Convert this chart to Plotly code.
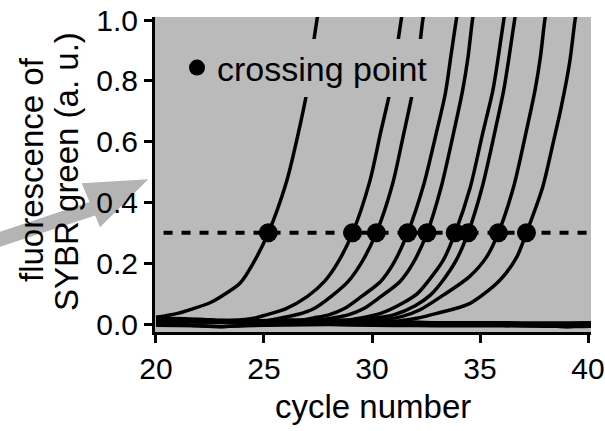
import plotly.graph_objects as go

# Amplification curves: cycle number vs. SYBR green fluorescence (a. u.)
c1_x = [20, 21.0, 21.7, 22.5, 23.0, 23.9, 24.5, 25.2, 26.05, 26.5, 27.0, 27.2, 27.45, 27.55]
c1_y = [0.022, 0.035, 0.05, 0.07, 0.09, 0.135, 0.2, 0.3, 0.47, 0.6, 0.77, 0.88, 1.0, 1.04]

c2_x = [20, 23.5, 24.6, 25.0, 26.0, 27.0, 27.8, 28.4, 29.1, 29.9, 30.4, 30.85, 31.1, 31.35, 31.45]
c2_y = [0.012, 0.012, 0.02, 0.028, 0.05, 0.09, 0.14, 0.2, 0.3, 0.47, 0.63, 0.77, 0.88, 1.0, 1.04]

c3_x = [20, 25.0, 25.8, 26.6, 27.3, 28.1, 28.9, 29.5, 30.2, 30.95, 31.45, 31.9, 32.15, 32.35, 32.45]
c3_y = [0.01, 0.01, 0.02, 0.032, 0.05, 0.09, 0.14, 0.2, 0.3, 0.46, 0.62, 0.77, 0.88, 1.0, 1.04]

c4_x = [20, 26.5, 27.3, 28.0, 28.7, 29.5, 30.4, 31.0, 31.65, 32.4, 32.95, 33.4, 33.65, 33.9, 34.0]
c4_y = [0.01, 0.01, 0.02, 0.03, 0.05, 0.09, 0.14, 0.2, 0.3, 0.46, 0.62, 0.76, 0.88, 1.0, 1.04]

c5_x = [20, 27.3, 28.2, 28.9, 29.6, 30.4, 31.3, 31.9, 32.55, 33.2, 33.75, 34.2, 34.45, 34.65, 34.75]
c5_y = [0.01, 0.01, 0.02, 0.03, 0.05, 0.09, 0.14, 0.2, 0.3, 0.45, 0.62, 0.77, 0.88, 1.0, 1.04]

c6_x = [20, 28.5, 29.5, 30.4, 31.45, 32.1, 32.7, 33.3, 33.85, 34.55, 35.1, 35.6, 35.85, 36.1, 36.2]
c6_y = [0.01, 0.01, 0.02, 0.035, 0.07, 0.1, 0.15, 0.21, 0.3, 0.45, 0.62, 0.77, 0.88, 1.0, 1.04]

c7_x = [20, 29.0, 30.0, 31.0, 32.0, 32.7, 33.3, 33.9, 34.45, 35.1, 35.65, 36.1, 36.35, 36.6, 36.7]
c7_y = [0.01, 0.01, 0.018, 0.03, 0.06, 0.095, 0.145, 0.21, 0.3, 0.45, 0.62, 0.77, 0.88, 1.0, 1.04]

c8_x = [20, 30.0, 31.4, 32.2, 33.3, 34.5, 35.3, 35.85, 36.55, 37.1, 37.55, 37.8, 38.0, 38.1]
c8_y = [0.01, 0.01, 0.025, 0.046, 0.095, 0.155, 0.22, 0.3, 0.45, 0.62, 0.77, 0.88, 1.0, 1.04]

c9_x = [20, 31.0, 32.07, 33.0, 34.54, 35.93, 36.7, 37.15, 37.9, 38.4, 38.75, 39.15, 39.4, 39.5]
c9_y = [0.008, 0.008, 0.019, 0.035, 0.068, 0.145, 0.22, 0.3, 0.45, 0.6, 0.71, 0.86, 1.0, 1.04]

# Non-amplifying wells staying on the baseline
base_x = [20, 22, 23, 24, 26, 28, 30, 32, 34, 36, 38, 39, 40.2]
base1_y = [0.004, -0.006, -0.009, -0.005, 0.0, 0.003, 0.002, 0.0, 0.002, 0.001, -0.004, -0.009, -0.002]
base2_y = [0.014, 0.01, 0.008, 0.007, 0.01, 0.011, 0.008, 0.005, 0.004, 0.004, 0.003, 0.003, 0.004]
base3_y = [0.02, 0.016, 0.012, 0.01, 0.013, 0.014, 0.01, 0.006, 0.0, -0.002, -0.001, 0.0, 0.001]
base4_y = [-0.004, -0.006, -0.008, -0.006, -0.003, -0.002, -0.004, -0.005, -0.006, -0.006, -0.007, -0.008, -0.007]

# Crossing points at the 0.3 threshold
cp_cycles = [25.2, 29.1, 30.2, 31.65, 32.55, 33.85, 34.45, 35.85, 37.15]
threshold = 0.3

x_ticks = [20, 25, 30, 35, 40]
y_ticks = [0.0, 0.2, 0.4, 0.6, 0.8, 1.0]

FONT = "Liberation Sans, Arial, sans-serif"
BG = "#bababa"

# plot-area pixel frame (for the decorative arrow drawn outside it)
L, R, T, B = 155, 14, 17, 99
W, H = 605, 431
PW, PH = W - L - R, H - T - B


def px(x, y):
    return (x - L) / PW, (H - B - y) / PH


fig = go.Figure()

for by in [base1_y, base2_y, base3_y, base4_y]:
    fig.add_trace(go.Scatter(x=base_x, y=by, mode="lines",
                             line=dict(color="black", width=3.5, shape="spline", smoothing=0.6),
                             showlegend=False, hoverinfo="skip"))

for cx, cy in [(c1_x, c1_y), (c2_x, c2_y), (c3_x, c3_y), (c4_x, c4_y), (c5_x, c5_y),
               (c6_x, c6_y), (c7_x, c7_y), (c8_x, c8_y), (c9_x, c9_y)]:
    fig.add_trace(go.Scatter(x=cx, y=cy, mode="lines",
                             line=dict(color="black", width=3.5, shape="spline", smoothing=0.8),
                             showlegend=False, hoverinfo="skip"))

# threshold line
fig.add_trace(go.Scatter(x=[20.35, 40.2], y=[threshold, threshold], mode="lines",
                         line=dict(color="black", width=4, dash="9px,9px"),
                         showlegend=False, hoverinfo="skip"))

fig.add_trace(go.Scatter(x=cp_cycles, y=[threshold] * len(cp_cycles), mode="markers",
                         marker=dict(color="black", size=19), name="crossing point",
                         showlegend=True, cliponaxis=False))

# grey arrow pointing at the y axis
pts = [(-5, 233.5), (89.5, 202), (81.7, 183.3), (148.3, 179.3), (100, 227.3), (95.2, 215.6), (-5, 248.5)]
path = "M " + " L ".join("{:.4f},{:.4f}".format(*px(a, b)) for a, b in pts) + " Z"
fig.add_shape(type="path", path=path, xref="paper", yref="paper", fillcolor="#b4b4b4",
              line=dict(width=0), layer="below")

ax_common = dict(showline=True, linecolor="black", linewidth=3, ticks="outside", ticklen=8,
                 tickwidth=3, tickcolor="black", showgrid=False, zeroline=False, automargin=False,
                 tickfont=dict(family=FONT, size=30, color="black"))

fig.update_xaxes(range=[19.954, 40.139], tickvals=x_ticks, ticktext=[str(t) for t in x_ticks], **ax_common)
fig.update_yaxes(range=[-0.0263, 1.0099], tickvals=y_ticks, ticktext=["{:.1f}".format(t) for t in y_ticks], **ax_common)

fig.add_annotation(text="cycle number", x=(373 - L) / PW, y=(H - B - 406) / PH, xref="paper", yref="paper",
                   showarrow=False, font=dict(family=FONT, size=33, color="black"), xanchor="center", yanchor="middle")
fig.add_annotation(text="fluorescence of", x=(31 - L) / PW, y=(H - B - 170) / PH, xref="paper", yref="paper",
                   showarrow=False, textangle=-90, font=dict(family=FONT, size=33, color="black"),
                   xanchor="center", yanchor="middle")
fig.add_annotation(text="SYBR green (a. u.)", x=(66 - L) / PW, y=(H - B - 172) / PH, xref="paper", yref="paper",
                   showarrow=False, textangle=-90, font=dict(family=FONT, size=33, color="black"),
                   xanchor="center", yanchor="middle")

fig.update_layout(
    width=W, height=H,
    margin=dict(l=L, r=R, t=T, b=B, pad=0),
    paper_bgcolor="white", plot_bgcolor=BG,
    legend=dict(x=(177 - L) / PW, y=(H - B - 68) / PH, xanchor="left", yanchor="middle",
                bgcolor=BG, borderwidth=0, font=dict(family=FONT, size=34, color="black"),
                itemsizing="trace"),
    showlegend=True,
)

fig.write_html("out.html")
